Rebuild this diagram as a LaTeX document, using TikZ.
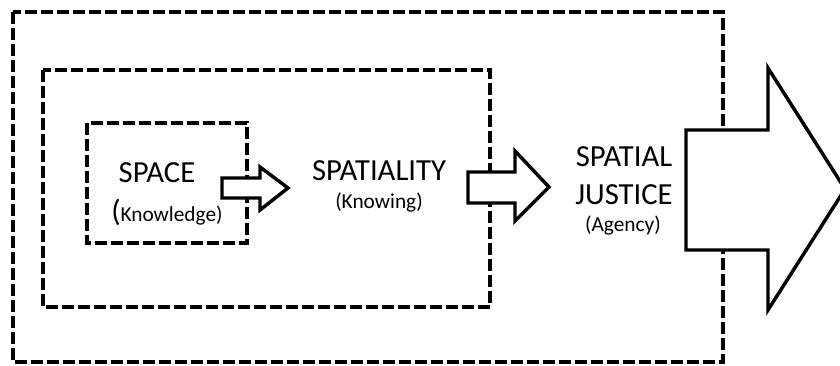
\documentclass[tikz,border=0pt]{standalone}
\usepackage{fontspec}
\setmainfont{Carlito}
\begin{document}
\begin{tikzpicture}[x=0.75pt,y=-0.75pt,
  frame/.style={draw=black,line width=3.4pt,dash pattern=on 9pt off 3pt,fill=none},
  blockarrow/.style={draw=black,line width=2.6pt,fill=white,line join=miter},
  bigtext/.style={font=\fontsize{23}{26}\selectfont,text=black,inner sep=0pt},
  smalltext/.style={font=\fontsize{16}{19}\selectfont,text=black,inner sep=0pt}]
\useasboundingbox (0,0) rectangle (840,365);

% nested dashed frames
\draw[frame] (13,12) rectangle (723,362);
\draw[frame] (43,70) rectangle (490,307);
\draw[frame] (87,123) rectangle (247,243);

% block arrows (white fill hides the dashed frame behind them)
\draw[blockarrow] (222,178) -- (260,178) -- (260,167) -- (288,188)
  -- (260,210) -- (260,198) -- (222,198) -- cycle;
\draw[blockarrow] (468,172) -- (515,172) -- (515,151) -- (549,187)
  -- (515,221) -- (515,203) -- (468,203) -- cycle;
\begin{scope}
\clip (0,0) rectangle (840,365);
\draw[blockarrow] (686,130) -- (768,130) -- (768,68) -- (845,189)
  -- (768,310) -- (768,250) -- (686,250) -- cycle;
\end{scope}

% labels
\node[bigtext] (space) at (157,173) {SPACE};
\node[smalltext,anchor=base west] (know) at (111,221)
  {\fontsize{23}{26}\selectfont(\fontsize{16}{19}\selectfont Knowledge)};
\node[bigtext] (spatiality) at (379,171) {SPATIALITY};
\node[smalltext] (knowing) at (379,203) {(Knowing)};
\node[bigtext] (spatial) at (624,157) {SPATIAL};
\node[bigtext] (justice) at (624,195) {JUSTICE};
\node[smalltext] (agency) at (623,226) {(Agency)};
\end{tikzpicture}
\end{document}
